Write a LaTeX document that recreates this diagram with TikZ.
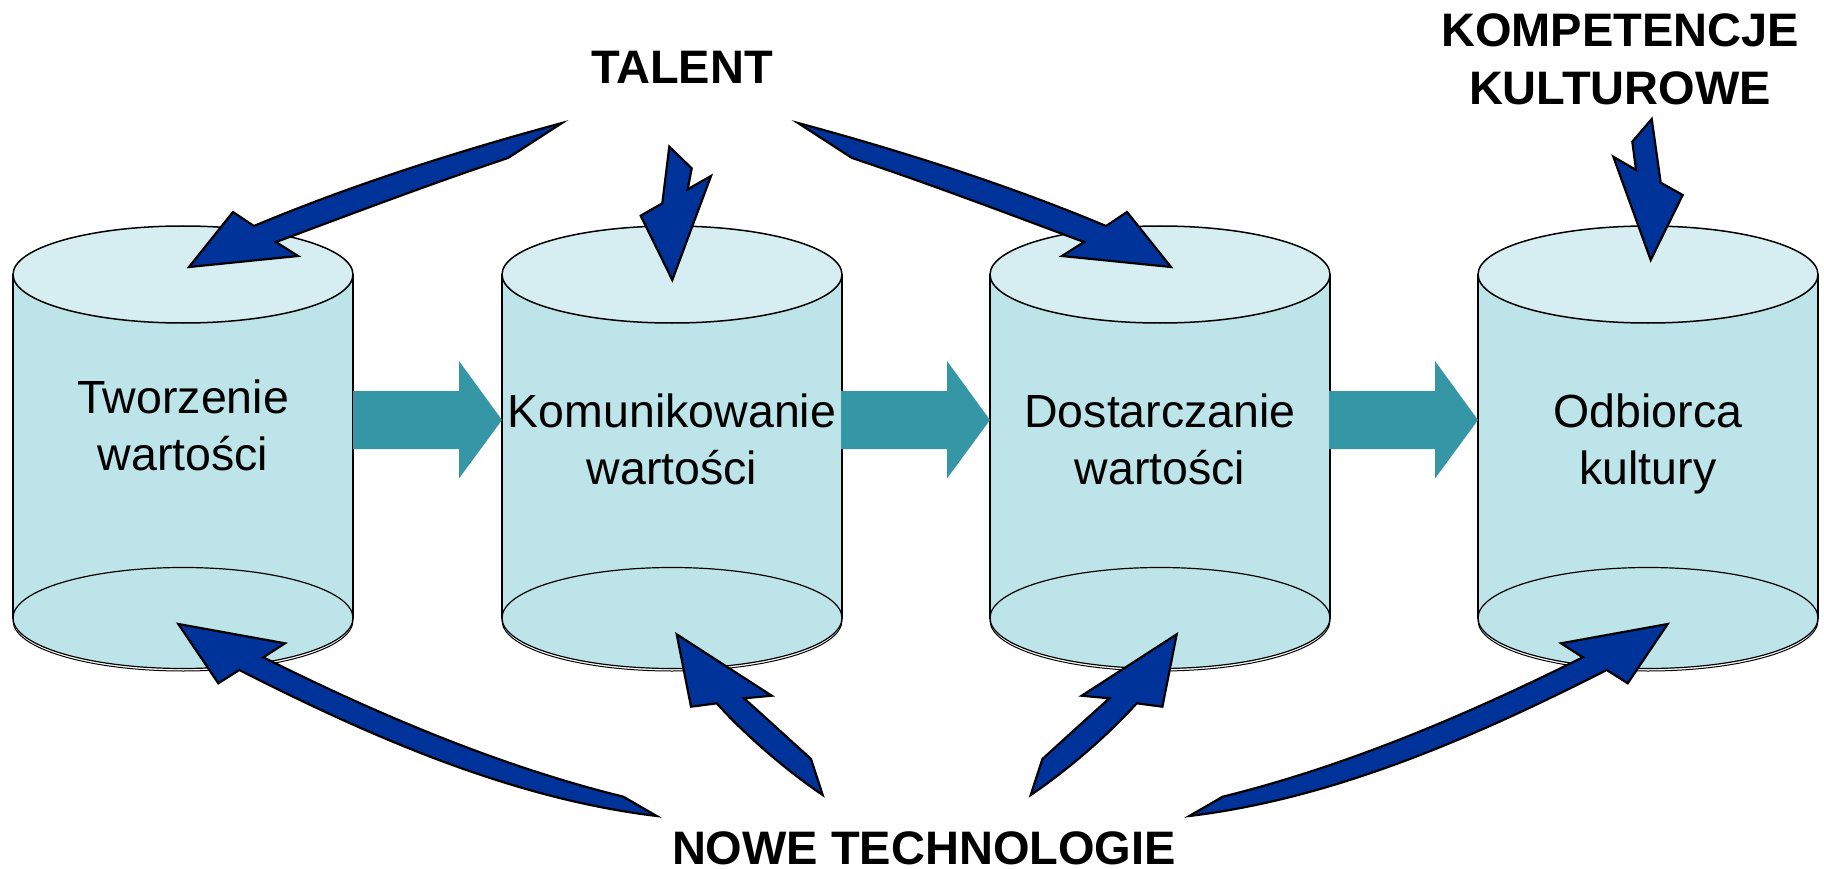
\documentclass[tikz,border=0pt]{standalone}
\usepackage{fontspec}
\setmainfont{Liberation Sans}
\definecolor{cylbody}{RGB}{188,228,233}
\definecolor{cyltop}{RGB}{214,238,242}
\definecolor{tealarr}{RGB}{53,151,166}
\definecolor{navyarr}{RGB}{0,51,153}
\tikzset{
  bluearrow/.style={fill=navyarr, draw=black, line width=2.2pt, line join=miter},
  tealarrow/.style={fill=tealarr, draw=none},
  cylline/.style={draw=black, line width=1.5pt},
  cyllabel/.style={anchor=base, inner sep=0pt, font=\fontsize{46.5}{57}\selectfont},
  biglabel/.style={anchor=base, inner sep=0pt, font=\fontsize{47}{58}\selectfont\bfseries},
}
\begin{document}
\begin{tikzpicture}[x=1pt,y=-1pt]
\useasboundingbox (0,0) rectangle (1824,869);
\fill[white] (0,0) rectangle (1824,869);

% cylinders
\foreach \cx/\nm in {183/c1, 672/c2, 1160/c3, 1648/c4} {
  \fill[cylbody] (\cx-170,274.5) rectangle (\cx+170,618);
  \draw[line width=1pt] (\cx,620.5) ellipse [x radius=170, y radius=50.5];
  \filldraw[fill=cylbody, draw=black, line width=1.2pt] (\cx,618) ellipse [x radius=170, y radius=50.5];
  \filldraw[fill=cyltop, draw=black, line width=1.5pt] (\cx,274.5) ellipse [x radius=170, y radius=48.5];
  \draw[cylline] (\cx-170,274.5) -- (\cx-170,619);
  \draw[cylline] (\cx+170,274.5) -- (\cx+170,619);
  \coordinate (\nm) at (\cx,446);
}

% labels in cylinders
\node[cyllabel] (t1a) at (183,413) {Tworzenie};
\node[cyllabel] (t1b) at (183,470) {wartości};
\node[cyllabel] (t2a) at (672,427) {Komunikowanie};
\node[cyllabel] (t2b) at (672,484) {wartości};
\node[cyllabel] (t3a) at (1160,427) {Dostarczanie};
\node[cyllabel] (t3b) at (1160,484) {wartości};
\node[cyllabel] (t4a) at (1648,427) {Odbiorca};
\node[cyllabel] (t4b) at (1648,484) {kultury};

% teal block arrows
\foreach \L in {353,841,1329} {
  \fill[tealarrow] (\L,391) -- (\L+106,391) -- (\L+106,361) -- (\L+149,420)
     -- (\L+106,478.5) -- (\L+106,449) -- (\L,449) -- cycle;
}

% outer labels
\node[biglabel] (talent) at (682,84) {TALENT};
\node[biglabel] (komp1) at (1620,47) {KOMPETENCJE};
\node[biglabel] (komp2) at (1620,105) {KULTUROWE};
\node[biglabel] (nowe) at (924,864) {NOWE TECHNOLOGIE};

% blue arrows from TALENT
\draw[bluearrow] (189,267) -- (233,212) -- (254,226)
  .. controls (354,184) and (462,150) .. (562,123) -- (508,158)
  .. controls (430,184) and (354,213) .. (276,242) -- (298,256) -- cycle;
\draw[bluearrow] (669.3,146.7) -- (691.7,168.3) -- (687.7,189.3) -- (711,176)
  -- (672.3,280) -- (640.7,215.7) -- (662.3,203.3) -- cycle;
\draw[bluearrow] (1171,267) -- (1127,212) -- (1106,226)
  .. controls (1006,184) and (898,150) .. (798,123) -- (852,158)
  .. controls (930,184) and (1006,213) .. (1084,242) -- (1062,256) -- cycle;

% from KOMPETENCJE KULTUROWE
\draw[bluearrow] (1651.7,119) -- (1660.7,182.7) -- (1682.7,195) -- (1650.7,260)
  -- (1613.3,156.7) -- (1636,170) -- (1632.3,141.7) -- cycle;

% from NOWE TECHNOLOGIE
\draw[bluearrow] (178.3,624) -- (285,643.3) -- (263.3,657.3)
  .. controls (383,717) and (503,767) .. (623.3,796.7) -- (656.7,816)
  .. controls (516,799) and (379,741) .. (239.3,670) -- (218.3,683.3) -- cycle;
\draw[bluearrow] (676.7,634.3) -- (771.7,695.7) -- (744,698.3)
  .. controls (766,718) and (789,739) .. (811,759) -- (822.7,795)
  .. controls (782.7,768) and (741.7,731.3) .. (716.7,703.3) -- (691,706.7) -- cycle;
\draw[bluearrow] (1176.7,634.3) -- (1081.7,695.7) -- (1109.4,698.3)
  .. controls (1087.4,718) and (1064.4,739) .. (1042.4,759) -- (1030.7,795)
  .. controls (1070.7,768) and (1111.7,731.3) .. (1136.7,703.3) -- (1162.4,706.7) -- cycle;
\draw[bluearrow] (1667.7,624) -- (1561,643.3) -- (1582.7,657.3)
  .. controls (1463,717) and (1343,767) .. (1222.7,796.7) -- (1189.3,816)
  .. controls (1330,799) and (1467,741) .. (1606.7,670) -- (1627.7,683.3) -- cycle;
\end{tikzpicture}
\end{document}
